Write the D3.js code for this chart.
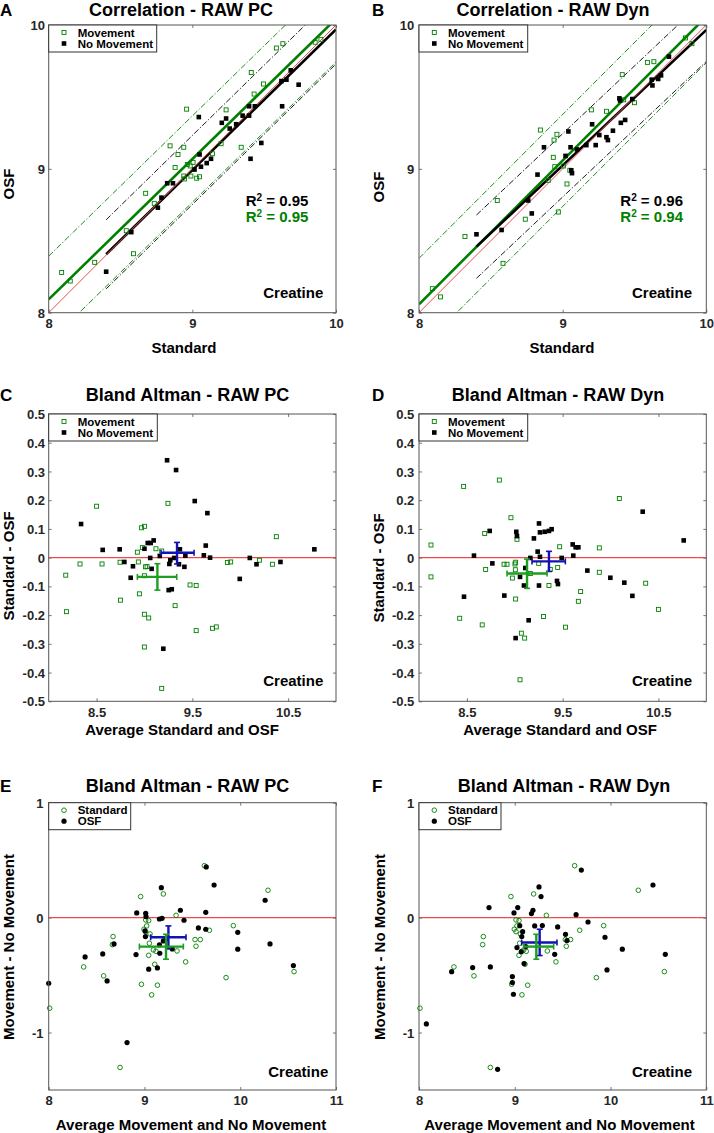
<!DOCTYPE html>
<html><head><meta charset="utf-8">
<script src="https://cdn.jsdelivr.net/npm/d3@7"></script>
<style>
body{margin:0;background:#fff}
text{font-family:"Liberation Sans",Arial,Helvetica,sans-serif;font-weight:bold}
</style>
</head><body>
<svg id="chart" width="714" height="1133"></svg>
<script>
// ---------------- DATA ----------------
const corrTicks = [8, 9, 10];
const baTicksX = [8.5, 9.5, 10.5];
const baTicksY = [0.5, 0.4, 0.3, 0.2, 0.1, 0, -0.1, -0.2, -0.3, -0.4, -0.5];
const mvTicksX = [8, 9, 10, 11];
const mvTicksY = [1, 0, -1];

// Panel A: Correlation RAW PC  [Standard, OSF]
const corrPC_movement = [[8.09,8.28],[8.15,8.22],[8.32,8.35],[8.54,8.57],[8.59,8.41],[8.675,8.83],[8.735,8.76],[8.845,9.16],[8.88,9.01],[8.90,9.10],[8.94,9.15],[8.94,8.95],[8.945,8.93],[8.96,9.415],[8.965,9.03],[8.985,9.02],[8.99,8.95],[9.005,9.045],[9.03,8.935],[9.05,8.945],[9.14,9.105],[9.20,9.175],[9.235,9.41],[9.34,9.15],[9.41,9.67],[9.43,9.52],[9.495,9.59],[9.585,9.84],[9.63,9.87],[9.855,9.88],[9.895,9.90]];
const corrPC_noMovement = [[8.40,8.285],[8.575,8.56],[8.76,8.73],[8.785,8.80],[8.825,8.90],[8.865,8.90],[9.015,8.995],[9.05,9.10],[9.06,9.015],[9.10,9.04],[9.13,9.07],[9.045,9.36],[9.205,9.32],[9.235,9.35],[9.26,9.28],[9.305,9.31],[9.35,9.37],[9.395,9.37],[9.395,9.435],[9.435,9.435],[9.405,9.07],[9.48,9.18],[9.62,9.61],[9.655,9.62],[9.685,9.685],[9.74,9.585],[9.625,9.435]];
// fits: [xStart, xEnd, yAtStart, slope, limitOfAgreement]
const fitPC_movement = [8, 10, 8.093, 0.975, 0.30];
const fitPC_noMovement = [8.4, 10, 8.406, 0.977, 0.24];
const r2PC = ["0.95", "0.95"];

// Panel B: Correlation RAW Dyn
const corrDyn_movement = [[8.093,8.167],[8.15,8.11],[8.32,8.53],[8.545,8.78],[8.585,8.343],[8.74,8.65],[8.845,9.27],[8.90,8.92],[8.935,9.08],[8.94,9.20],[8.96,9.24],[8.945,9.015],[8.97,8.70],[9.005,9.02],[9.03,8.895],[9.05,8.99],[9.20,9.41],[9.305,9.40],[9.415,9.655],[9.425,9.48],[9.50,9.46],[9.59,9.74],[9.635,9.745],[9.855,9.91],[9.90,9.87]];
const corrDyn_noMovement = [[8.40,8.545],[8.575,8.575],[8.76,8.78],[8.785,8.69],[8.825,8.96],[8.87,9.15],[9.02,9.09],[9.04,9.26],[9.055,9.15],[9.06,8.99],[9.065,8.97],[9.10,9.135],[9.165,9.165],[9.205,9.31],[9.23,9.165],[9.255,9.235],[9.305,9.22],[9.315,9.20],[9.35,9.265],[9.395,9.49],[9.40,9.475],[9.405,9.32],[9.435,9.34],[9.485,9.485],[9.62,9.62],[9.625,9.58],[9.665,9.625],[9.685,9.65],[9.74,9.78]];
const fitDyn_movement = [8, 10, 8.058, 1.0, 0.32];
const fitDyn_noMovement = [8.4, 10, 8.459, 0.942, 0.22];
const r2Dyn = ["0.96", "0.94"];

// Panel C: Bland Altman RAW PC  [average, difference]
const baPC_movement = [[8.178,-0.061],[8.185,-0.188],[8.327,-0.022],[8.50,0.179],[8.557,-0.022],[8.745,-0.016],[8.75,-0.148],[8.926,0.019],[8.936,-0.015],[8.947,-0.126],[8.97,0.104],[9.0,0.109],[8.978,0.035],[8.999,-0.063],[9.01,-0.032],[9.027,-0.031],[8.999,-0.197],[9.044,-0.21],[8.999,-0.311],[9.12,0.031],[9.18,0.023],[9.18,-0.455],[9.245,0.189],[9.32,-0.167],[9.476,-0.095],[9.54,-0.097],[9.54,-0.254],[9.71,-0.246],[9.75,-0.241],[9.866,-0.017],[9.90,-0.015],[10.2,-0.009],[10.336,-0.023],[10.377,0.073]];
const baPC_noMovement = [[8.338,0.117],[8.564,0.027],[8.741,0.029],[8.79,-0.015],[8.856,-0.07],[8.88,-0.03],[9.0,0.031],[9.034,0.051],[9.065,0.051],[9.096,0.06],[9.06,-0.001],[9.075,-0.039],[9.16,0.006],[9.236,0.339],[9.33,0.305],[9.26,-0.022],[9.27,-0.009],[9.253,-0.113],[9.285,-0.11],[9.197,-0.317],[9.31,-0.001],[9.37,0.029],[9.36,-0.023],[9.417,-0.032],[9.427,0.007],[9.525,0.197],[9.657,0.155],[9.62,0.008],[9.64,0.042],[9.685,0.0],[9.995,-0.074],[10.10,-0.001],[10.17,-0.023],[10.42,-0.015],[10.774,0.029]];
// mean crosses: [meanX, meanY, xLow, xHigh, yLow, yHigh]
const baPC_meanMovement = [9.135, -0.067, 8.926, 9.337, -0.113, -0.021];
const baPC_meanNoMovement = [9.34, 0.017, 9.173, 9.518, -0.022, 0.053];

// Panel D: Bland Altman RAW Dyn
const baDyn_movement = [[8.125,0.044],[8.125,-0.067],[8.425,-0.211],[8.466,0.248],[8.66,-0.234],[8.686,0.084],[8.696,-0.041],[8.839,0.27],[8.888,-0.023],[8.919,-0.023],[8.96,0.139],[8.975,-0.071],[9.002,-0.022],[9.009,-0.016],[9.006,-0.042],[9.009,-0.144],[9.023,0.064],[9.069,-0.263],[9.103,-0.28],[9.055,-0.425],[9.163,-0.055],[9.25,-0.02],[9.30,-0.205],[9.357,-0.097],[9.371,-0.041],[9.448,-0.034],[9.469,0.038],[9.53,-0.242],[9.664,-0.152],[9.688,-0.118],[9.883,0.034],[9.883,-0.051],[10.092,0.206],[10.367,-0.089],[10.5,-0.18]];
const baDyn_noMovement = [[8.574,0.007],[8.47,-0.136],[8.738,0.093],[8.766,-0.02],[8.891,-0.132],[9.016,0.09],[9.023,0.075],[9.009,-0.28],[9.055,-0.067],[9.096,-0.097],[9.11,-0.036],[9.145,-0.218],[9.163,-0.001],[9.20,0.067],[9.239,0.021],[9.253,0.119],[9.263,0.088],[9.253,-0.097],[9.263,0.003],[9.312,0.09],[9.357,0.093],[9.385,0.099],[9.441,-0.081],[9.451,-0.092],[9.49,-0.001],[9.605,0.046],[9.611,0.007],[9.636,0.036],[9.664,0.036],[9.758,-0.045],[9.998,-0.07],[10.144,-0.087],[10.228,-0.133],[10.336,0.16],[10.764,0.06]];
const baDyn_meanMovement = [9.128, -0.055, 8.919, 9.337, -0.107, -0.005];
const baDyn_meanNoMovement = [9.357, -0.013, 9.18, 9.528, -0.048, 0.022];

// Panels E/F: Movement - No Movement
const mvStandard = [[8.01,-0.788],[8.365,-0.429],[8.574,-0.507],[8.672,-0.165],[8.665,-0.235],[8.745,-1.304],[8.96,0.183],[8.968,-0.58],[8.995,-0.101],[9.013,-0.02],[9.044,-0.026],[9.023,-0.072],[9.013,-0.122],[9.058,-0.142],[9.051,-0.223],[9.044,-0.328],[9.075,-0.672],[9.093,-0.281],[9.107,-0.406],[9.12,-0.293],[9.135,-0.588],[9.197,0.206],[9.33,0.02],[9.34,-0.29],[9.43,-0.385],[9.528,-0.191],[9.538,-0.249],[9.583,-0.191],[9.625,0.452],[9.678,-0.11],[9.852,-0.522],[9.928,-0.07],[10.29,0.238],[10.562,-0.47]];
const mvPC_osf = [[8.0,-0.571],[8.38,-0.342],[8.564,-0.316],[8.61,-0.551],[8.682,-0.229],[8.818,-1.087],[8.912,-0.322],[8.919,0.041],[9.006,-0.116],[9.013,0.038],[9.016,0.009],[9.01,-0.165],[9.044,-0.449],[9.135,-0.438],[9.156,-0.012],[9.184,-0.006],[9.176,0.261],[9.156,-0.238],[9.16,-0.31],[9.197,-0.203],[9.228,-0.186],[9.29,-0.272],[9.375,0.064],[9.413,-0.023],[9.563,-0.09],[9.64,0.046],[9.645,0.441],[9.64,-0.101],[9.727,0.284],[9.974,-0.128],[9.974,-0.275],[10.26,0.151],[10.311,-0.229],[10.555,-0.417]];
const mvDyn_osf = [[8.077,-0.925],[8.341,-0.47],[8.56,-0.435],[8.745,-0.429],[8.731,0.087],[8.821,-1.32],[8.975,-0.513],[8.975,-0.565],[8.986,-0.667],[8.992,0.041],[9.031,0.087],[9.052,-0.07],[9.073,-0.165],[9.082,-0.122],[9.068,-0.296],[9.023,-0.261],[9.097,-0.4],[9.115,-0.252],[9.174,0.035],[9.19,0.064],[9.208,-0.072],[9.253,0.267],[9.274,0.183],[9.288,-0.069],[9.417,-0.319],[9.448,-0.081],[9.53,-0.145],[9.545,-0.2],[9.64,0.026],[9.695,0.414],[9.765,-0.038],[9.942,-0.171],[9.963,-0.455],[10.123,-0.275],[10.443,0.284],[10.572,-0.319]];
const mvPC_meanStandard = [9.225, -0.252, 8.947, 9.406, -0.362, -0.145];
const mvPC_meanOsf = [9.25, -0.171, 9.065, 9.434, -0.272, -0.072];
const mvDyn_meanStandard = [9.225, -0.252, 9.093, 9.406, -0.362, -0.145];
const mvDyn_meanOsf = [9.26, -0.217, 9.072, 9.441, -0.33, -0.101];

// ---------------- STYLE ----------------
const GREEN = "#008000", CROSS_GREEN = "#1e9e1e", BLUE = "#1212b4", RED = "#ee4c4c";
const AXIS = "#555", TICKTXT = "#262626";

const svg = d3.select("#chart");

function drawPanel(p) {
  const g = svg.append("g");
  const x = d3.scaleLinear().domain(p.xDom).range([p.L, p.R]);
  const y = d3.scaleLinear().domain(p.yDom).range([p.B, p.T]);
  const clipId = "clip" + p.letter;
  svg.append("clipPath").attr("id", clipId).append("rect")
    .attr("x", p.L).attr("y", p.T).attr("width", p.R - p.L).attr("height", p.B - p.T);

  const tl = 3;
  const axB = d3.axisBottom(x).tickValues(p.xTicks).tickSize(-tl).tickPadding(7).tickFormat(d => String(d));
  const axT = d3.axisTop(x).tickValues(p.xTicks).tickSize(-tl).tickFormat("");
  const axL = d3.axisLeft(y).tickValues(p.yTicks).tickSize(-tl).tickPadding(7).tickFormat(d => String(d));
  const axR = d3.axisRight(y).tickValues(p.yTicks).tickSize(-tl).tickFormat("");
  const gb = g.append("g").attr("transform", `translate(0,${p.B})`).call(axB);
  const gt = g.append("g").attr("transform", `translate(0,${p.T})`).call(axT);
  const gl = g.append("g").attr("transform", `translate(${p.L},0)`).call(axL);
  const gr = g.append("g").attr("transform", `translate(${p.R},0)`).call(axR);
  [gb, gt, gl, gr].forEach(a => {
    a.select(".domain").remove();
    a.selectAll(".tick line").attr("stroke", AXIS).attr("stroke-width", 0.8);
    a.selectAll(".tick text").attr("fill", TICKTXT).style("font-size", "13px")
      .style("font-family", '"Liberation Sans",Arial,sans-serif').style("font-weight", "bold");
  });
  gb.selectAll(".tick text").attr("y", null).attr("dy", null).attr("transform", `translate(0,${p.xTickY - p.B})`);
  gl.selectAll(".tick text").attr("x", p.yTickX - p.L).attr("dy", "0.35em");

  const plot = g.append("g").attr("clip-path", `url(#${clipId})`);
  const line = d3.line().x(d => x(d[0])).y(d => y(d[1]));

  (p.fits || []).forEach(f => {
    const [x0, x1, y0, s, loa] = f.fit;
    const pts = (off) => [[x0, y0 + off], [x1, y0 + s * (x1 - x0) + off]];
    [loa, -loa].forEach(off => {
      plot.append("path").attr("d", line(pts(off))).attr("fill", "none")
        .attr("stroke", f.color).attr("stroke-width", 0.9).attr("stroke-dasharray", "6,2,1.2,2");
    });
  });
  (p.fits || []).forEach(f => {
    const [x0, x1, y0, s] = f.fit;
    plot.append("path").attr("d", line([[x0, y0], [x1, y0 + s * (x1 - x0)]]))
      .attr("fill", "none").attr("stroke", f.color).attr("stroke-width", 2.6);
  });
  if (p.identity) {
    plot.append("path").attr("d", line([[p.xDom[0], p.yDom[0]], [p.xDom[1], p.yDom[1]]]))
      .attr("fill", "none").attr("stroke", RED).attr("stroke-width", 1);
  }

  p.series.forEach(s => {
    const sel = g.append("g").selectAll("x").data(s.data).enter();
    if (s.shape === "square") {
      const sz = s.filled ? 4.6 : 4;
      sel.append("rect").attr("x", d => x(d[0]) - sz / 2).attr("y", d => y(d[1]) - sz / 2)
        .attr("width", sz).attr("height", sz)
        .attr("fill", s.filled ? "#000" : "none").attr("stroke", s.filled ? "none" : GREEN)
        .attr("stroke-width", 0.9);
    } else {
      sel.append("circle").attr("cx", d => x(d[0])).attr("cy", d => y(d[1]))
        .attr("r", s.filled ? 2.6 : 2.3)
        .attr("fill", s.filled ? "#000" : "none").attr("stroke", s.filled ? "none" : GREEN)
        .attr("stroke-width", 0.9);
    }
  });

  if (p.zeroLine) {
    plot.append("path").attr("d", line([[p.xDom[0], 0], [p.xDom[1], 0]]))
      .attr("fill", "none").attr("stroke", RED).attr("stroke-width", 1.2);
  }

  (p.crosses || []).forEach(c => {
    const [mx, my, xl, xh, yl, yh] = c.m;
    const cg = g.append("g").attr("stroke", c.color).attr("stroke-width", 2.4).attr("fill", "none");
    const cap = 3;
    cg.append("line").attr("x1", x(xl)).attr("x2", x(xh)).attr("y1", y(my)).attr("y2", y(my));
    cg.append("line").attr("x1", x(mx)).attr("x2", x(mx)).attr("y1", y(yl)).attr("y2", y(yh));
    cg.append("line").attr("x1", x(xl)).attr("x2", x(xl)).attr("y1", y(my) - cap).attr("y2", y(my) + cap).attr("stroke-width", 1.6);
    cg.append("line").attr("x1", x(xh)).attr("x2", x(xh)).attr("y1", y(my) - cap).attr("y2", y(my) + cap).attr("stroke-width", 1.6);
    cg.append("line").attr("x1", x(mx) - cap).attr("x2", x(mx) + cap).attr("y1", y(yl)).attr("y2", y(yl)).attr("stroke-width", 1.6);
    cg.append("line").attr("x1", x(mx) - cap).attr("x2", x(mx) + cap).attr("y1", y(yh)).attr("y2", y(yh)).attr("stroke-width", 1.6);
  });

  g.append("rect").attr("x", p.L).attr("y", p.T).attr("width", p.R - p.L).attr("height", p.B - p.T)
    .attr("fill", "none").attr("stroke", AXIS).attr("stroke-width", 1);

  // legend
  const lg = g.append("g");
  lg.append("rect").attr("x", p.L).attr("y", p.T).attr("width", p.legendW).attr("height", 27)
    .attr("fill", "#fff").attr("stroke", "#333").attr("stroke-width", 1);
  p.series.forEach((s, i) => {
    const ly = p.T + 7.5 + i * 11;
    const mx = p.L + 15.3;
    if (s.shape === "square") {
      const sz = s.filled ? 4.6 : 4;
      lg.append("rect").attr("x", mx - sz / 2).attr("y", ly - sz / 2).attr("width", sz).attr("height", sz)
        .attr("fill", s.filled ? "#000" : "none").attr("stroke", s.filled ? "none" : GREEN).attr("stroke-width", 0.9);
    } else {
      lg.append("circle").attr("cx", mx).attr("cy", ly).attr("r", s.filled ? 2.6 : 2.3)
        .attr("fill", s.filled ? "#000" : "none").attr("stroke", s.filled ? "none" : GREEN).attr("stroke-width", 0.9);
    }
    lg.append("text").attr("x", p.L + 29).attr("y", ly + 4).style("font-size", "11.5px").text(s.name);
  });

  g.append("text").attr("x", p.letterX).attr("y", p.titleY).style("font-size", "17px").text(p.letter);
  g.append("text").attr("x", p.titleX).attr("y", p.titleY).attr("text-anchor", "middle")
    .style("font-size", "18px").text(p.title);
  g.append("text").attr("x", p.xLabelX).attr("y", p.xLabelY).attr("text-anchor", "middle")
    .style("font-size", "15px").text(p.xLabel);
  g.append("text").attr("transform", `translate(${p.yLabelX},${p.yLabelY}) rotate(-90)`)
    .attr("text-anchor", "middle").attr("dy", "0.35em").style("font-size", "15px").text(p.yLabel);
  g.append("text").attr("x", p.creX).attr("y", p.creY).attr("text-anchor", "end")
    .style("font-size", "15px").text("Creatine");

  if (p.r2) {
    p.r2.forEach((v, i) => {
      const t = g.append("text").attr("x", p.r2X).attr("y", 205.7 + i * 16.6)
        .attr("fill", i === 0 ? "#000" : GREEN).style("font-size", "15px");
      t.append("tspan").text("R");
      t.append("tspan").attr("dy", -5).style("font-size", "10px").text("2");
      t.append("tspan").attr("dy", 5).text(" = " + v);
    });
  }
}

const sqMove = (d) => ({ name: "Movement", data: d, shape: "square", filled: false });
const sqNo = (d) => ({ name: "No Movement", data: d, shape: "square", filled: true });
const ciStd = (d) => ({ name: "Standard", data: d, shape: "circle", filled: false });
const ciOsf = (d) => ({ name: "OSF", data: d, shape: "circle", filled: true });

const colL = { L: 48.7, R: 336, letterX: 0, yLabelX: 9, yTickX: 45 };
const colR = { L: 419, R: 706.3, letterX: 372, yLabelX: 379, yTickX: 414.3 };

drawPanel(Object.assign({}, colL, {
  letter: "A", title: "Correlation - RAW PC", titleX: 181, titleY: 15.5,
  T: 25, B: 312.7, xDom: [8, 10], yDom: [8, 10], xTicks: corrTicks, yTicks: corrTicks, xTickY: 327.5,
  xLabel: "Standard", xLabelX: 184, xLabelY: 352.7, yLabel: "OSF", yLabelY: 184,
  series: [sqMove(corrPC_movement), sqNo(corrPC_noMovement)], legendW: 108,
  fits: [{ fit: fitPC_movement, color: GREEN }, { fit: fitPC_noMovement, color: "#000" }],
  identity: true, r2: r2PC, r2X: 245.7, creX: 323.3, creY: 297.7
}));
drawPanel(Object.assign({}, colR, {
  letter: "B", title: "Correlation - RAW Dyn", titleX: 553, titleY: 15.5,
  T: 25, B: 312.7, xDom: [8, 10], yDom: [8, 10], xTicks: corrTicks, yTicks: corrTicks, xTickY: 327.5,
  xLabel: "Standard", xLabelX: 562, xLabelY: 352.7, yLabel: "OSF", yLabelY: 187,
  series: [sqMove(corrDyn_movement), sqNo(corrDyn_noMovement)], legendW: 108.7,
  fits: [{ fit: fitDyn_movement, color: GREEN }, { fit: fitDyn_noMovement, color: "#000" }],
  identity: true, r2: r2Dyn, r2X: 620.3, creX: 692, creY: 297.7
}));
drawPanel(Object.assign({}, colL, {
  letter: "C", title: "Bland Altman - RAW PC", titleX: 187.5, titleY: 400.5,
  T: 414, B: 701.3, xDom: [8, 11], yDom: [-0.5, 0.5], xTicks: baTicksX, yTicks: baTicksY, xTickY: 716.7,
  xLabel: "Average Standard and OSF", xLabelX: 182, xLabelY: 735, yLabel: "Standard - OSF", yLabelY: 566,
  series: [sqMove(baPC_movement), sqNo(baPC_noMovement)], legendW: 108.6,
  zeroLine: true,
  crosses: [{ m: baPC_meanNoMovement, color: BLUE }, { m: baPC_meanMovement, color: CROSS_GREEN }],
  creX: 323.3, creY: 686
}));
drawPanel(Object.assign({}, colR, {
  letter: "D", title: "Bland Altman - RAW Dyn", titleX: 558, titleY: 400.5,
  T: 414, B: 701.3, xDom: [8, 11], yDom: [-0.5, 0.5], xTicks: baTicksX, yTicks: baTicksY, xTickY: 716.7,
  xLabel: "Average Standard and OSF", xLabelX: 560, xLabelY: 735, yLabel: "Standard - OSF", yLabelY: 568,
  series: [sqMove(baDyn_movement), sqNo(baDyn_noMovement)], legendW: 108.7,
  zeroLine: true,
  crosses: [{ m: baDyn_meanNoMovement, color: BLUE }, { m: baDyn_meanMovement, color: CROSS_GREEN }],
  creX: 692, creY: 686
}));
drawPanel(Object.assign({}, colL, {
  letter: "E", title: "Bland Altman - RAW PC", titleX: 187.5, titleY: 791.5,
  T: 802.7, B: 1090, xDom: [8, 11], yDom: [-1.5, 1], xTicks: mvTicksX, yTicks: mvTicksY, xTickY: 1105,
  xLabel: "Average Movement and No Movement", xLabelX: 191, xLabelY: 1130,
  yLabel: "Movement - No Movement", yLabelY: 947, yTickX: 43.5,
  series: [ciStd(mvStandard), ciOsf(mvPC_osf)], legendW: 82,
  zeroLine: true,
  crosses: [{ m: mvPC_meanOsf, color: BLUE }, { m: mvPC_meanStandard, color: CROSS_GREEN }],
  creX: 328.3, creY: 1076.7
}));
drawPanel(Object.assign({}, colR, {
  letter: "F", title: "Bland Altman - RAW Dyn", titleX: 564, titleY: 791.5,
  T: 802.7, B: 1090, xDom: [8, 11], yDom: [-1.5, 1], xTicks: mvTicksX, yTicks: mvTicksY, xTickY: 1105,
  xLabel: "Average Movement and No Movement", xLabelX: 559.5, xLabelY: 1130,
  yLabel: "Movement - No Movement", yLabelY: 947, yLabelX: 380,
  series: [ciStd(mvStandard), ciOsf(mvDyn_osf)], legendW: 82,
  zeroLine: true,
  crosses: [{ m: mvDyn_meanOsf, color: BLUE }, { m: mvDyn_meanStandard, color: CROSS_GREEN }],
  creX: 692, creY: 1076.7
}));
</script>
</body></html>
